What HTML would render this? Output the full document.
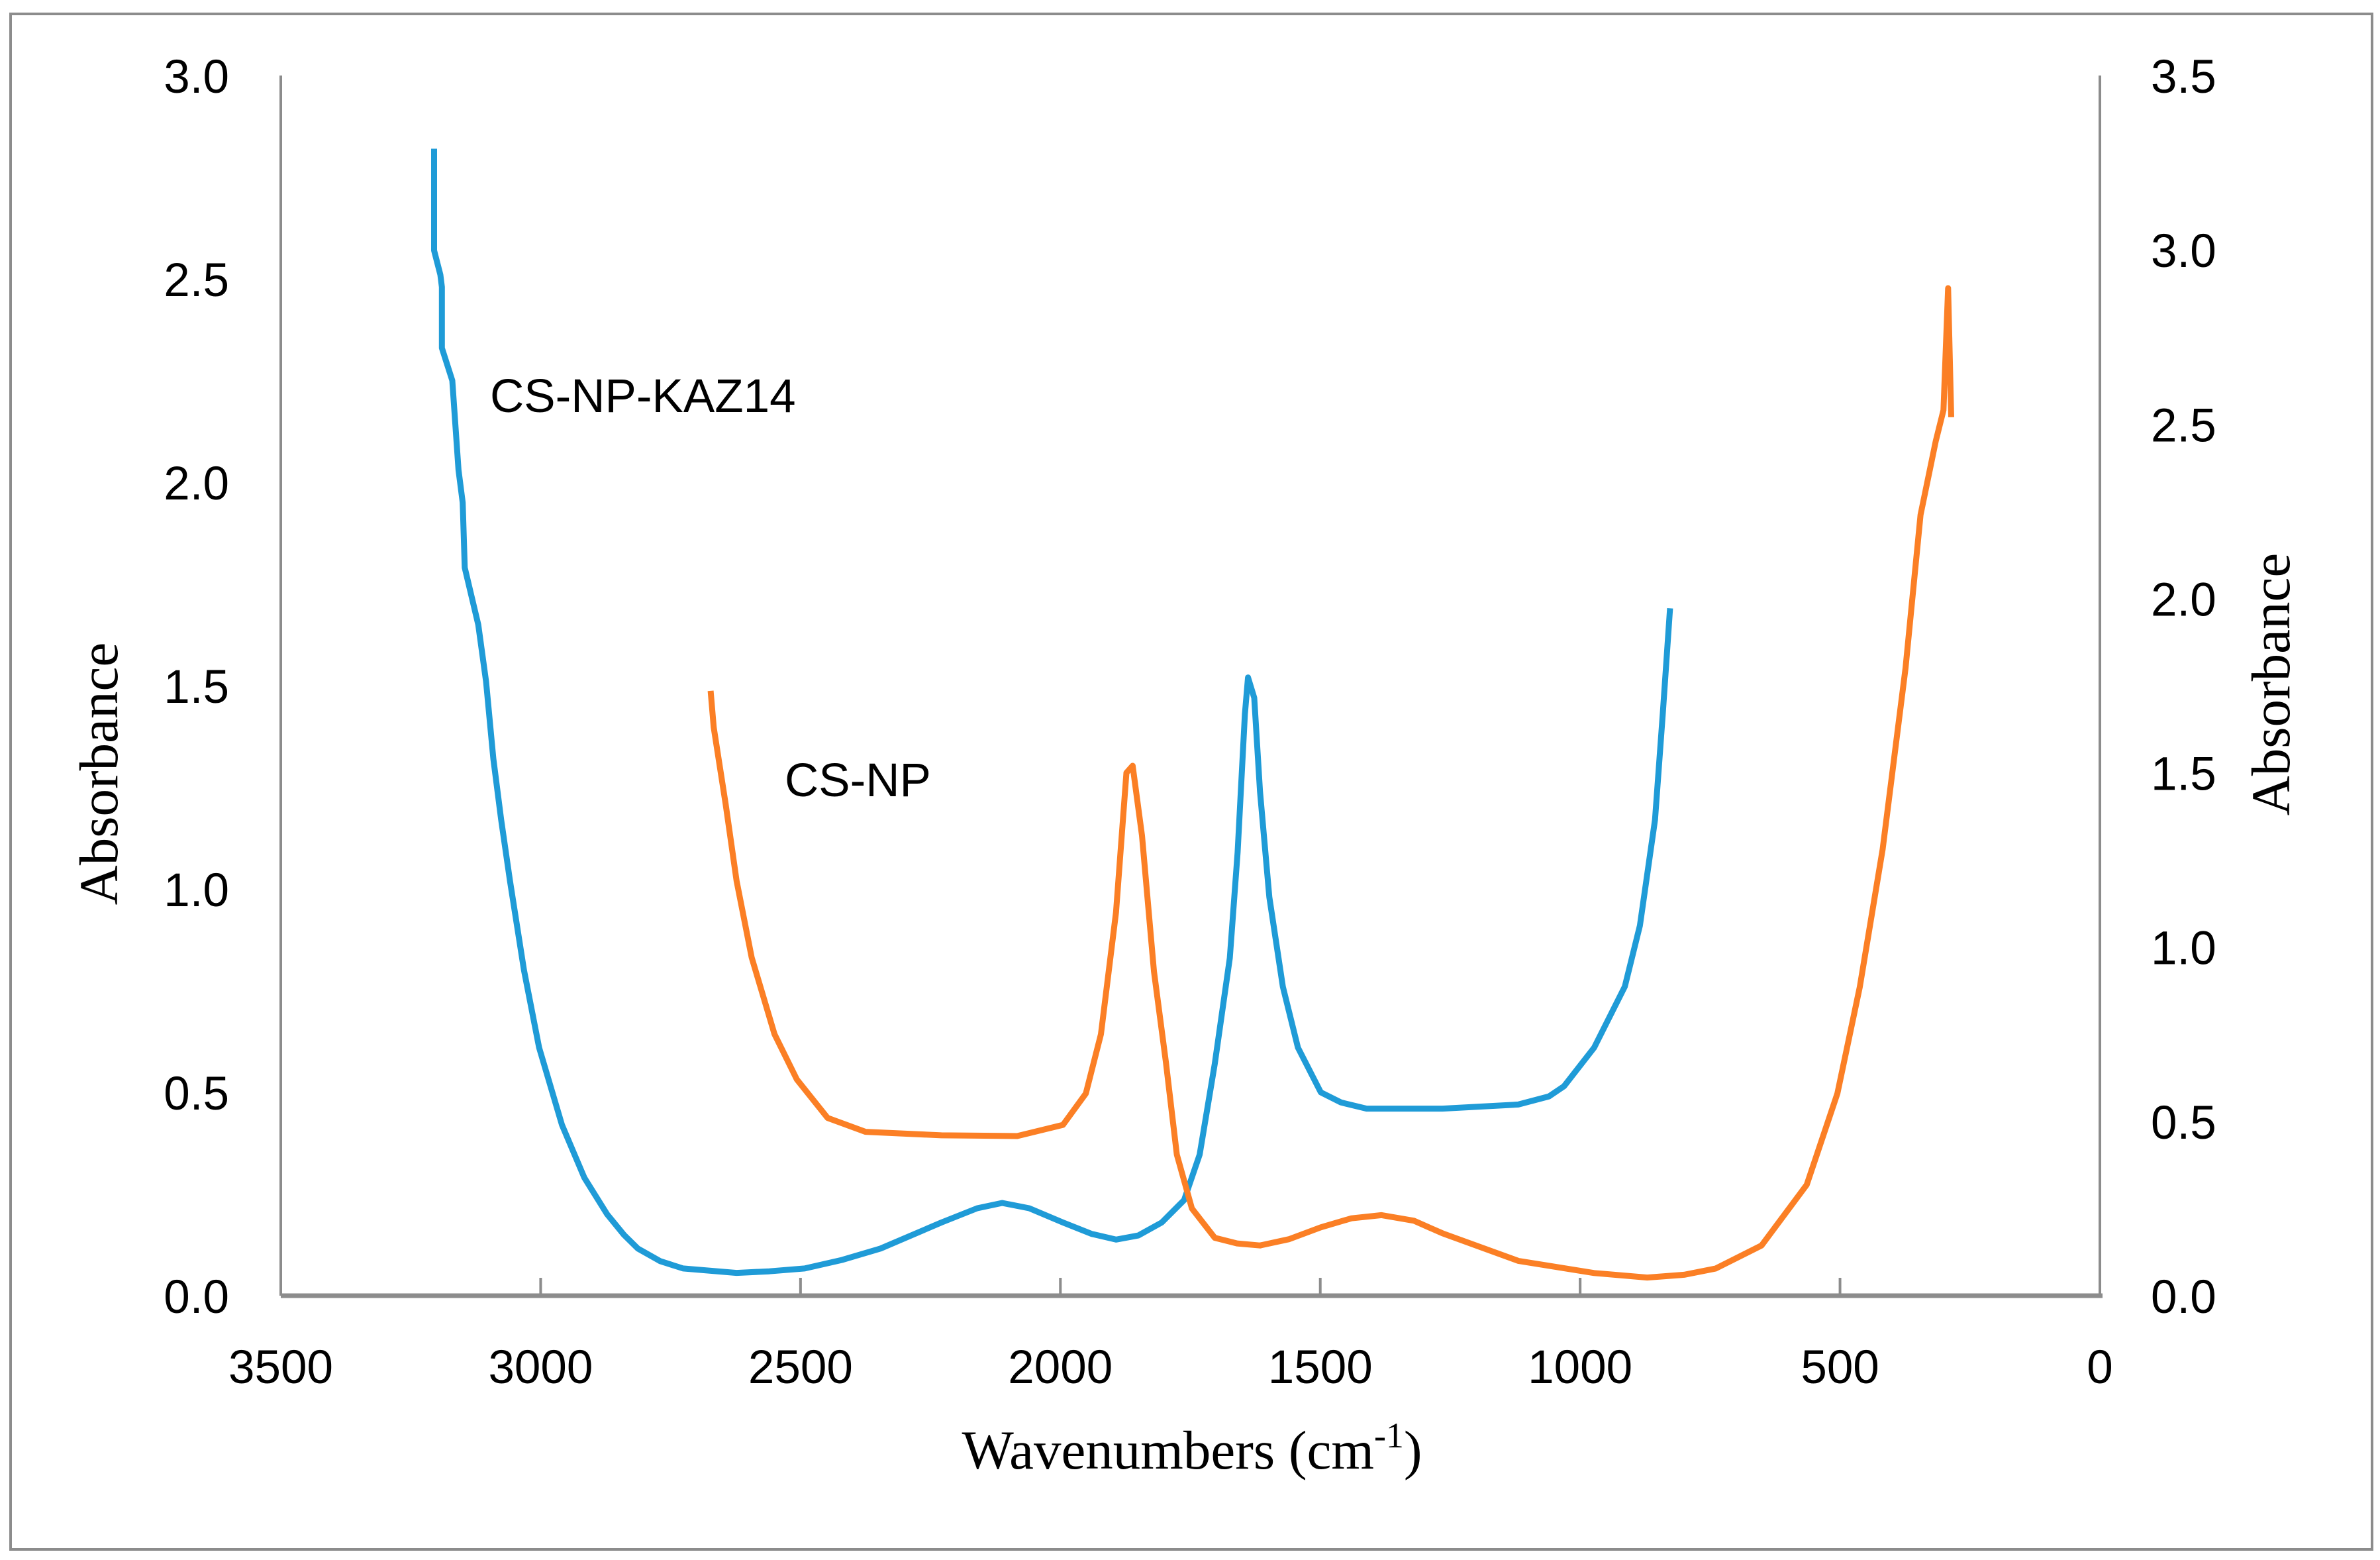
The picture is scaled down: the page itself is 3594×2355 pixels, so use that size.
<!DOCTYPE html>
<html><head><meta charset="utf-8"><style>
html,body{margin:0;padding:0;background:#fff;}
svg{display:block;}
.tk{font-family:"Liberation Sans",sans-serif;font-size:71px;fill:#000;}
.ttl{font-family:"Liberation Serif",serif;font-size:83px;fill:#000;}
</style></head><body>
<svg id="chart" width="3594" height="2355" viewBox="0 0 3594 2355" xmlns="http://www.w3.org/2000/svg">
<rect x="16" y="21" width="3566" height="2318" fill="#fff" stroke="#8c8c8c" stroke-width="4"/>
<g id="axes"></g>
<g id="series"></g>
<text class="ttl" x="1800" y="2217" text-anchor="middle">Wavenumbers (cm<tspan dy="-32" font-size="54">-1</tspan><tspan dy="32">)</tspan></text>
<text class="ttl" transform="translate(177,1168) rotate(-90)" text-anchor="middle">Absorbance</text>
<text class="ttl" transform="translate(3457,1033) rotate(-90)" text-anchor="middle">Absorbance</text>
<text class="tk" x="740" y="622">CS-NP-KAZ14</text>
<text class="tk" x="1185" y="1202">CS-NP</text>
</svg>
<script>
const xTicks=[3500,3000,2500,2000,1500,1000,500,0];
const yLeftTicks=[0,0.5,1.0,1.5,2.0,2.5,3.0];
const yRightTicks=[0,0.5,1.0,1.5,2.0,2.5,3.0,3.5];
const kazWn=[3205,3205,3193,3190,3190,3170,3158,3150,3146,3120,3105,3091,3076,3059,3032,3003,2959,2916,2872,2840,2813,2770,2726,2623,2560,2492,2420,2346,2229,2160,2112,2060,1995,1940,1893,1850,1805,1762,1732,1703,1674,1659,1645,1639,1627,1616,1598,1572,1543,1499,1460,1411,1265,1119,1060,1031,973,914,885,856,841,827];
const kazAbs=[2.82,2.57,2.51,2.48,2.33,2.25,2.03,1.95,1.79,1.65,1.51,1.32,1.17,1.02,0.80,0.61,0.42,0.29,0.20,0.15,0.116,0.085,0.067,0.056,0.060,0.067,0.088,0.116,0.18,0.215,0.228,0.215,0.18,0.152,0.138,0.148,0.18,0.235,0.347,0.57,0.83,1.09,1.43,1.52,1.47,1.24,0.98,0.76,0.61,0.50,0.475,0.46,0.46,0.47,0.49,0.515,0.61,0.76,0.91,1.17,1.43,1.69];
const npWn=[2673,2667,2644,2623,2594,2550,2507,2448,2375,2229,2083,1995,1951,1922,1893,1873,1861,1843,1820,1797,1776,1747,1703,1660,1616,1560,1499,1440,1382,1320,1265,1119,973,871,800,739,651,564,505,462,418,374,345,316,301,292,286];
const npAbs=[1.735,1.63,1.41,1.19,0.97,0.75,0.62,0.51,0.47,0.46,0.458,0.49,0.58,0.75,1.10,1.50,1.52,1.32,0.93,0.67,0.405,0.25,0.166,0.15,0.144,0.162,0.196,0.222,0.231,0.215,0.179,0.10,0.065,0.052,0.060,0.078,0.144,0.318,0.58,0.885,1.28,1.80,2.24,2.45,2.54,2.89,2.52];

const L=424,R=3171,T=114,B=1956;
const xS=w=>R-(w/3500)*(R-L);
const yL=v=>B-(v/3.0)*(B-T);
const yR=v=>B-(v/3.5)*(B-T);
const NS='http://www.w3.org/2000/svg';
const axes=document.getElementById('axes'),series=document.getElementById('series');
function mk(tag,at,parent){const e=document.createElementNS(NS,tag);for(const k in at)e.setAttribute(k,at[k]);parent.appendChild(e);return e;}
let e;
e=mk('line',{x1:L,y1:T,x2:L,y2:B,stroke:'#8c8c8c','stroke-width':4},axes);


e=mk('line',{x1:R,y1:T,x2:R,y2:B,stroke:'#8c8c8c','stroke-width':4},axes);


e=mk('line',{x1:L,y1:B,x2:R+4,y2:B,stroke:'#8c8c8c','stroke-width':7},axes);


xTicks.forEach(t=>{
  const x=xS(t);
  e=mk('line',{x1:x,y1:B,x2:x,y2:B-27,stroke:'#8c8c8c','stroke-width':4},axes);
  
  
  e=mk('text',{x:x,y:2088,'text-anchor':'middle',class:'tk'},axes);e.textContent=String(t);
  
  
});
yLeftTicks.forEach(t=>{
  e=mk('text',{x:346,y:yL(t)+26,'text-anchor':'end',class:'tk'},axes);e.textContent=t.toFixed(1);
  
  
});
yRightTicks.forEach(t=>{
  e=mk('text',{x:3248,y:yR(t)+26,'text-anchor':'start',class:'tk'},axes);e.textContent=t.toFixed(1);
  
  
});
function pts(wn,ab,yf){return wn.map((w,i)=>xS(w).toFixed(1)+','+yf(ab[i]).toFixed(1)).join(' ');}
e=mk('polyline',{points:pts(kazWn,kazAbs,yL),fill:'none',stroke:'#1f9bd7','stroke-width':9,'stroke-linejoin':'round'},series);


e=mk('polyline',{points:pts(npWn,npAbs,yR),fill:'none',stroke:'#fb7f25','stroke-width':9,'stroke-linejoin':'round'},series);


</script>
</body></html>
